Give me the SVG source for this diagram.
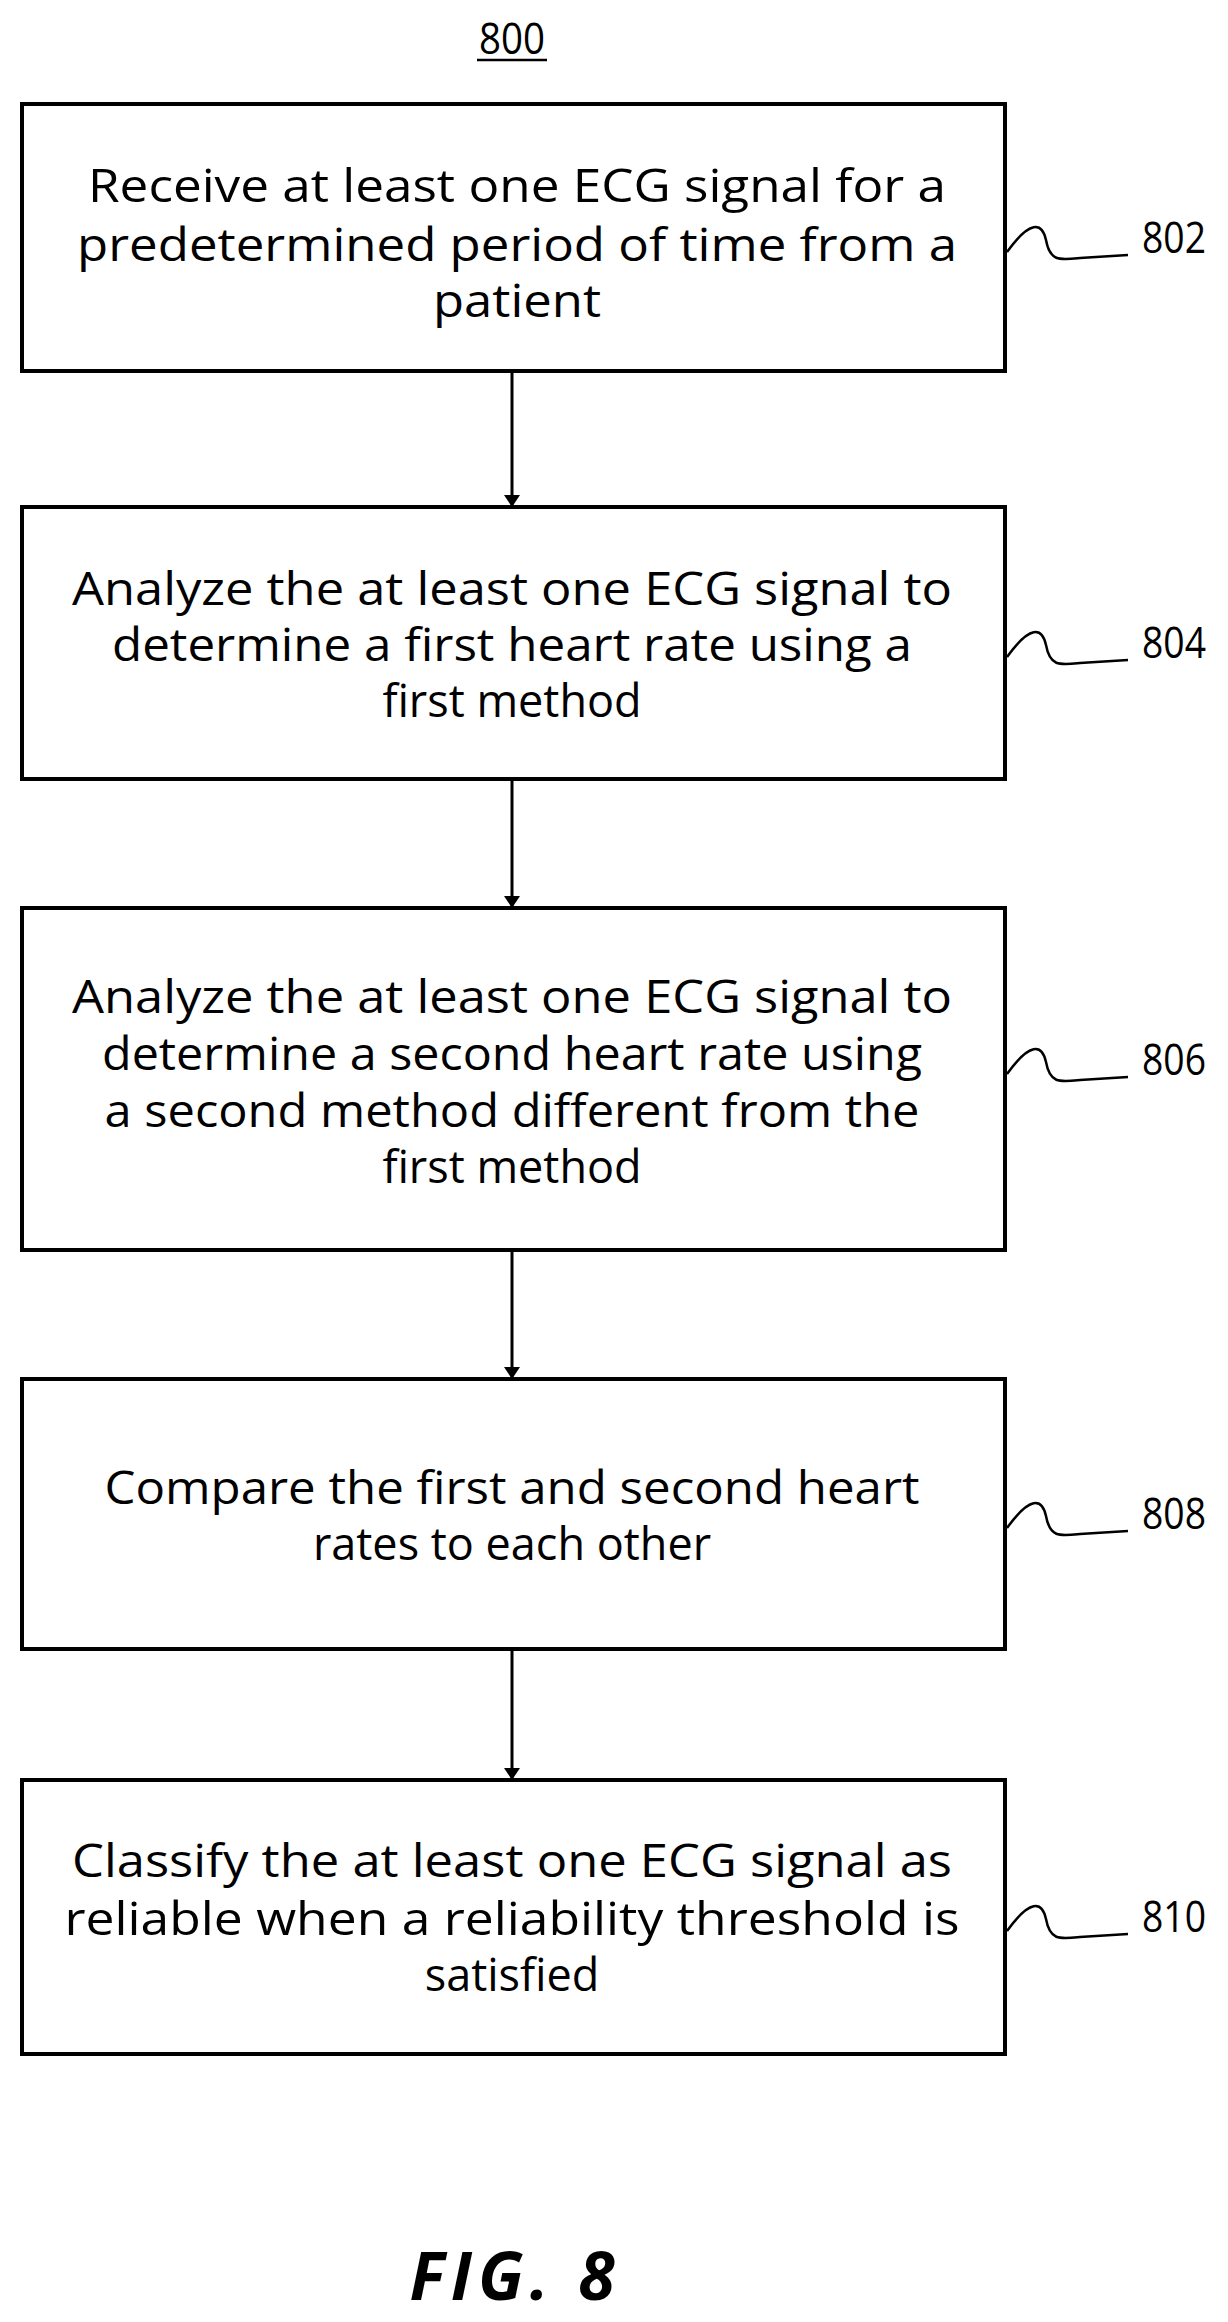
<svg xmlns="http://www.w3.org/2000/svg" width="1228" height="2322" viewBox="0 0 1228 2322">
<style>
.box{fill:#fff;stroke:#000;stroke-width:4}
.t{font-family:"Open Sans","DejaVu Sans",sans-serif;font-size:45px;text-anchor:middle;fill:#000}
.lbl{font-family:"Open Sans","DejaVu Sans",sans-serif;font-size:44px;fill:#000}
.sq{fill:none;stroke:#000;stroke-width:2.5}
.c{stroke:#000;stroke-width:3;fill:none}
</style>
<defs><marker id="ah" markerWidth="12" markerHeight="16" refX="10" refY="8" orient="auto" markerUnits="userSpaceOnUse"><path d="M0,0 L12,8 L0,16 z" fill="#000"/></marker></defs>
<rect width="1228" height="2322" fill="#fff"/>
<text x="512" y="54" class="lbl" text-anchor="middle" textLength="66" lengthAdjust="spacingAndGlyphs">800</text>
<line x1="477" y1="60" x2="547" y2="60" stroke="#000" stroke-width="2.5"/>
<g id="connectors">
<line class="c" x1="512" y1="371" x2="512" y2="505" marker-end="url(#ah)"/>
<line class="c" x1="512" y1="779" x2="512" y2="906" marker-end="url(#ah)"/>
<line class="c" x1="512" y1="1250" x2="512" y2="1377" marker-end="url(#ah)"/>
<line class="c" x1="512" y1="1649" x2="512" y2="1778" marker-end="url(#ah)"/>
</g>
<g id="n802"><rect class="box" x="22" y="104" width="983" height="267"/>
<text class="t" x="517" y="202" textLength="858" lengthAdjust="spacingAndGlyphs">Receive at least one ECG signal for a</text>
<text class="t" x="517" y="261" textLength="880" lengthAdjust="spacingAndGlyphs">predetermined period of time from a</text>
<text class="t" x="517" y="317" textLength="168" lengthAdjust="spacingAndGlyphs">patient</text>
<path class="sq" d="M1007,252 C1030,220 1042,222 1046,240 C1050,262 1060,260 1080,258 L1128,255"/>
<text class="lbl" x="1142" y="253" textLength="64" lengthAdjust="spacingAndGlyphs">802</text></g>
<g id="n804"><rect class="box" x="22" y="507" width="983" height="272"/>
<text class="t" x="512" y="605" textLength="880" lengthAdjust="spacingAndGlyphs">Analyze the at least one ECG signal to</text>
<text class="t" x="512" y="661" textLength="800" lengthAdjust="spacingAndGlyphs">determine a first heart rate using a</text>
<text class="t" x="512" y="717">first method</text>
<path class="sq" d="M1007,657 C1030,625 1042,627 1046,645 C1050,667 1060,665 1080,663 L1128,660"/>
<text class="lbl" x="1142" y="658" textLength="64" lengthAdjust="spacingAndGlyphs">804</text></g>
<g id="n806"><rect class="box" x="22" y="908" width="983" height="342"/>
<text class="t" x="512" y="1013" textLength="880" lengthAdjust="spacingAndGlyphs">Analyze the at least one ECG signal to</text>
<text class="t" x="512" y="1070" textLength="820" lengthAdjust="spacingAndGlyphs">determine a second heart rate using</text>
<text class="t" x="512" y="1127" textLength="815" lengthAdjust="spacingAndGlyphs">a second method different from the</text>
<text class="t" x="512" y="1183">first method</text>
<path class="sq" d="M1007,1074 C1030,1042 1042,1044 1046,1062 C1050,1084 1060,1082 1080,1080 L1128,1077"/>
<text class="lbl" x="1142" y="1075" textLength="64" lengthAdjust="spacingAndGlyphs">806</text></g>
<g id="n808"><rect class="box" x="22" y="1379" width="983" height="270"/>
<text class="t" x="512" y="1504" textLength="815" lengthAdjust="spacingAndGlyphs">Compare the first and second heart</text>
<text class="t" x="512" y="1560">rates to each other</text>
<path class="sq" d="M1007,1528 C1030,1496 1042,1498 1046,1516 C1050,1538 1060,1536 1080,1534 L1128,1531"/>
<text class="lbl" x="1142" y="1529" textLength="64" lengthAdjust="spacingAndGlyphs">808</text></g>
<g id="n810"><rect class="box" x="22" y="1780" width="983" height="274"/>
<text class="t" x="512" y="1877" textLength="880" lengthAdjust="spacingAndGlyphs">Classify the at least one ECG signal as</text>
<text class="t" x="512" y="1935" textLength="895" lengthAdjust="spacingAndGlyphs">reliable when a reliability threshold is</text>
<text class="t" x="512" y="1991">satisfied</text>
<path class="sq" d="M1007,1931 C1030,1899 1042,1901 1046,1919 C1050,1941 1060,1939 1080,1937 L1128,1934"/>
<text class="lbl" x="1142" y="1932" textLength="64" lengthAdjust="spacingAndGlyphs">810</text></g>
<text x="512" y="2300" font-family="'Open Sans','DejaVu Sans',sans-serif" font-size="66" font-style="italic" font-weight="bold" text-anchor="middle" textLength="205" lengthAdjust="spacing">FIG. 8</text>
</svg>
